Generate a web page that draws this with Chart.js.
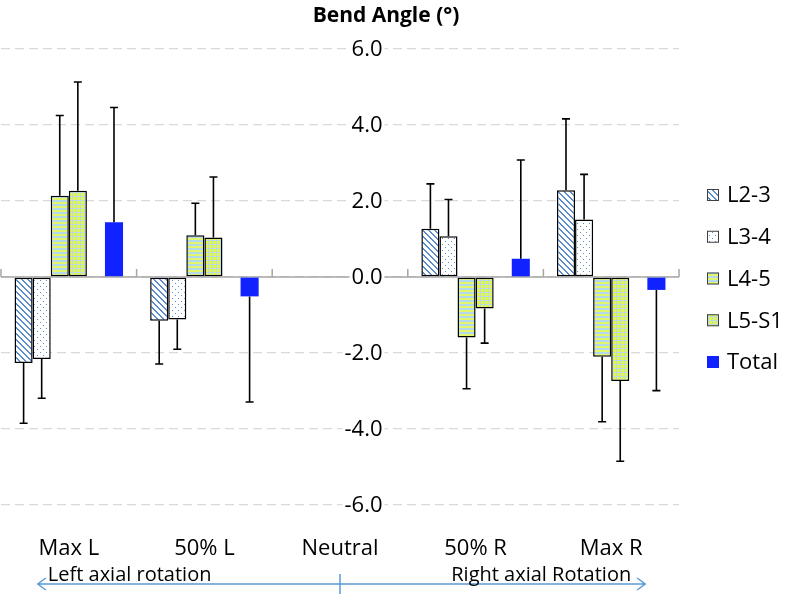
<!DOCTYPE html>
<html>
<head>
<meta charset="utf-8">
<script src="https://cdn.jsdelivr.net/npm/chart.js@4.4.1/dist/chart.umd.min.js"></script>
<style>
  html, body { margin: 0; padding: 0; background: #fff; }
  #wrap { width: 786px; height: 594px; }
</style>
</head>
<body>
<div id="wrap"><canvas id="chart" width="786" height="594"></canvas></div>
<script>
// Values (mean bend angle and SD, degrees)
const categories = ["Max L", "50% L", "Neutral", "50% R", "Max R"];
const l23Mean = [-2.26, -1.15, null, 1.27, 2.28];
const l23Sd = [1.59, 1.14, null, 1.18, 1.88];
const l34Mean = [-2.16, -1.12, null, 1.07, 1.51];
const l34Sd = [1.03, 0.78, null, 0.97, 1.19];
const l45Mean = [2.14, 1.10, null, -1.59, -2.10];
const l45Sd = [2.11, 0.84, null, 1.35, 1.71];
const l5s1Mean = [2.27, 1.04, null, -0.83, -2.74];
const l5s1Sd = [2.86, 1.59, null, 0.91, 2.11];
const totalMean = [1.44, -0.51, null, 0.48, -0.34];
const totalSd = [3.02, 2.78, null, 2.60, 2.65];
const yTicks = [6, 4, 2, 0, -2, -4, -6];

const FONT = "'Open Sans', 'DejaVu Sans', sans-serif";

// Small repeating tiles for the hatched fills
function makePattern(size, draw) {
  const c = document.createElement("canvas");
  c.width = size[0];
  c.height = size[1];
  const g = c.getContext("2d");
  draw(g);
  return g.createPattern(c, "repeat");
}

const stripePattern = makePattern([6, 6], (g) => {
  g.fillStyle = "#ffffff";
  g.fillRect(0, 0, 6, 6);
  g.fillStyle = "#5a8cce";
  for (let y = 0; y < 6; y++) {
    g.fillRect(y % 6, y, 2, 1);
    if (y === 5) g.fillRect(0, y, 1, 1);
  }
});

const dotPattern = makePattern([6, 6], (g) => {
  g.fillStyle = "#ffffff";
  g.fillRect(0, 0, 6, 6);
  g.fillStyle = "#5a8cce";
  g.fillRect(1, 1, 1, 1);
  g.fillRect(4, 4, 1, 1);
});

const bandPattern = makePattern([1, 4], (g) => {
  g.fillStyle = "#b3d9ee";
  g.fillRect(0, 0, 1, 2);
  g.fillStyle = "#e3f56c";
  g.fillRect(0, 2, 1, 2);
});

const plaidPattern = makePattern([4, 4], (g) => {
  g.fillStyle = "#e2f64e";
  g.fillRect(0, 0, 4, 4);
  g.fillStyle = "#b9dbe8";
  g.fillRect(0, 0, 4, 1);
  g.fillRect(0, 0, 1, 4);
});

function barSet(label, data, sd, fill, border) {
  return {
    label: label,
    data: data,
    sd: sd,
    backgroundColor: fill,
    borderColor: border ? "#000000" : fill,
    borderWidth: border ? 1.5 : 0,
    borderSkipped: false,
  };
}

// Error bars, drawn away from zero like the original
const errorBars = {
  id: "errorBars",
  afterDatasetsDraw(chart) {
    const ctx = chart.ctx;
    const yScale = chart.scales.y;
    ctx.save();
    ctx.strokeStyle = "#000000";
    ctx.lineWidth = 1.6;
    chart.data.datasets.forEach((ds, di) => {
      if (!ds.sd) return;
      const meta = chart.getDatasetMeta(di);
      meta.data.forEach((bar, i) => {
        const v = ds.data[i];
        const s = ds.sd[i];
        if (v == null || s == null) return;
        const end = yScale.getPixelForValue(v + (v >= 0 ? s : -s));
        ctx.beginPath();
        ctx.moveTo(bar.x, bar.y);
        ctx.lineTo(bar.x, end);
        ctx.moveTo(bar.x - 4, end);
        ctx.lineTo(bar.x + 4, end);
        ctx.stroke();
      });
    });
    ctx.restore();
  },
};

// Zero line with category tick marks
const zeroAxis = {
  id: "zeroAxis",
  beforeDatasetsDraw(chart) {
    const ctx = chart.ctx;
    const x = chart.scales.x;
    const y0 = chart.scales.y.getPixelForValue(0);
    const half = (x.getPixelForValue(1) - x.getPixelForValue(0)) / 2;
    ctx.save();
    ctx.strokeStyle = "#a6a6a6";
    ctx.lineWidth = 1.5;
    ctx.beginPath();
    ctx.moveTo(x.left, y0);
    ctx.lineTo(x.right, y0);
    for (let i = 0; i <= categories.length; i++) {
      const px = x.getPixelForValue(0) - half + i * 2 * half;
      ctx.moveTo(px, y0);
      ctx.lineTo(px, y0 - 8);
    }
    ctx.stroke();
    ctx.restore();
  },
};

// Texts: title, value labels, categories, legend and the rotation arrow
const labels = {
  id: "labels",
  afterDraw(chart) {
    const ctx = chart.ctx;
    const x = chart.scales.x;
    const y = chart.scales.y;
    ctx.save();

    ctx.fillStyle = "#000000";
    ctx.font = "bold 21px " + FONT;
    ctx.textAlign = "center";
    ctx.textBaseline = "middle";
    ctx.fillText("Bend Angle (\u00b0)", 386, 16);

    ctx.font = "22px " + FONT;
    ctx.textAlign = "right";
    const labelRight = x.getPixelForValue(2) + 42.5;
    yTicks.forEach((t) => {
      const py = y.getPixelForValue(t);
      const txt = t.toFixed(1);
      const w = ctx.measureText(txt).width;
      ctx.fillStyle = "#ffffff";
      ctx.fillRect(labelRight - w - 2, py - 6, w + 4, 12);
      ctx.fillStyle = "#000000";
      ctx.fillText(txt, labelRight, py + 1);
    });

    ctx.textAlign = "center";
    ctx.textBaseline = "alphabetic";
    categories.forEach((c, i) => {
      ctx.fillText(c, x.getPixelForValue(i), y.bottom + 50);
    });

    // legend
    let ly = 195;
    ctx.textAlign = "left";
    ctx.textBaseline = "middle";
    chart.data.datasets.forEach((ds) => {
      if (!ds.label) return;
      ctx.fillStyle = ds.backgroundColor;
      ctx.fillRect(707, ly - 6, 12, 12);
      if (ds.borderWidth) {
        ctx.strokeStyle = "#404040";
        ctx.lineWidth = 1;
        ctx.strokeRect(707.5, ly - 5.5, 11, 11);
      }
      ctx.fillStyle = "#000000";
      ctx.fillText(ds.label, 727, ly + 1);
      ly += 41.75;
    });

    // rotation arrow under the categories
    const left = x.getPixelForValue(0) - 31;
    const right = x.getPixelForValue(4) + 34;
    const mid = x.getPixelForValue(2);
    const ay = 584;
    ctx.strokeStyle = "#5b9bd5";
    ctx.lineWidth = 1.5;
    ctx.beginPath();
    ctx.moveTo(left, ay);
    ctx.lineTo(right, ay);
    ctx.moveTo(left + 8, ay - 6);
    ctx.lineTo(left, ay);
    ctx.lineTo(left + 8, ay + 6);
    ctx.moveTo(right - 8, ay - 6);
    ctx.lineTo(right, ay);
    ctx.lineTo(right - 8, ay + 6);
    ctx.moveTo(mid, ay - 10);
    ctx.lineTo(mid, 594);
    ctx.stroke();

    ctx.fillStyle = "#000000";
    ctx.font = "20px " + FONT;
    ctx.textBaseline = "alphabetic";
    ctx.textAlign = "left";
    ctx.fillText("Left axial rotation", left + 10, 581);
    ctx.textAlign = "right";
    ctx.fillText("Right axial Rotation", right - 14, 581);

    ctx.restore();
  },
};

new Chart(document.getElementById("chart"), {
  type: "bar",
  data: {
    labels: categories,
    datasets: [
      barSet("L2-3", l23Mean, l23Sd, stripePattern, true),
      barSet("L3-4", l34Mean, l34Sd, dotPattern, true),
      barSet("L4-5", l45Mean, l45Sd, bandPattern, true),
      barSet("L5-S1", l5s1Mean, l5s1Sd, plaidPattern, true),
      { label: "", data: categories.map(() => null) }, // empty slot before Total
      barSet("Total", totalMean, totalSd, "#1022ff", false),
    ],
  },
  options: {
    responsive: false,
    animation: false,
    categoryPercentage: 0.8,
    barPercentage: 1,
    layout: { padding: { top: 49, bottom: 89, left: 1, right: 107 } },
    plugins: {
      legend: { display: false },
      tooltip: { enabled: false },
    },
    scales: {
      x: { display: false },
      y: {
        min: -6,
        max: 6,
        ticks: { display: false, stepSize: 2 },
        grid: { drawTicks: false, color: "#d9d9d9", lineWidth: 1.3 },
        border: { display: false, dash: [9, 5] },
      },
    },
  },
  plugins: [zeroAxis, errorBars, labels],
});
</script>
</body>
</html>
